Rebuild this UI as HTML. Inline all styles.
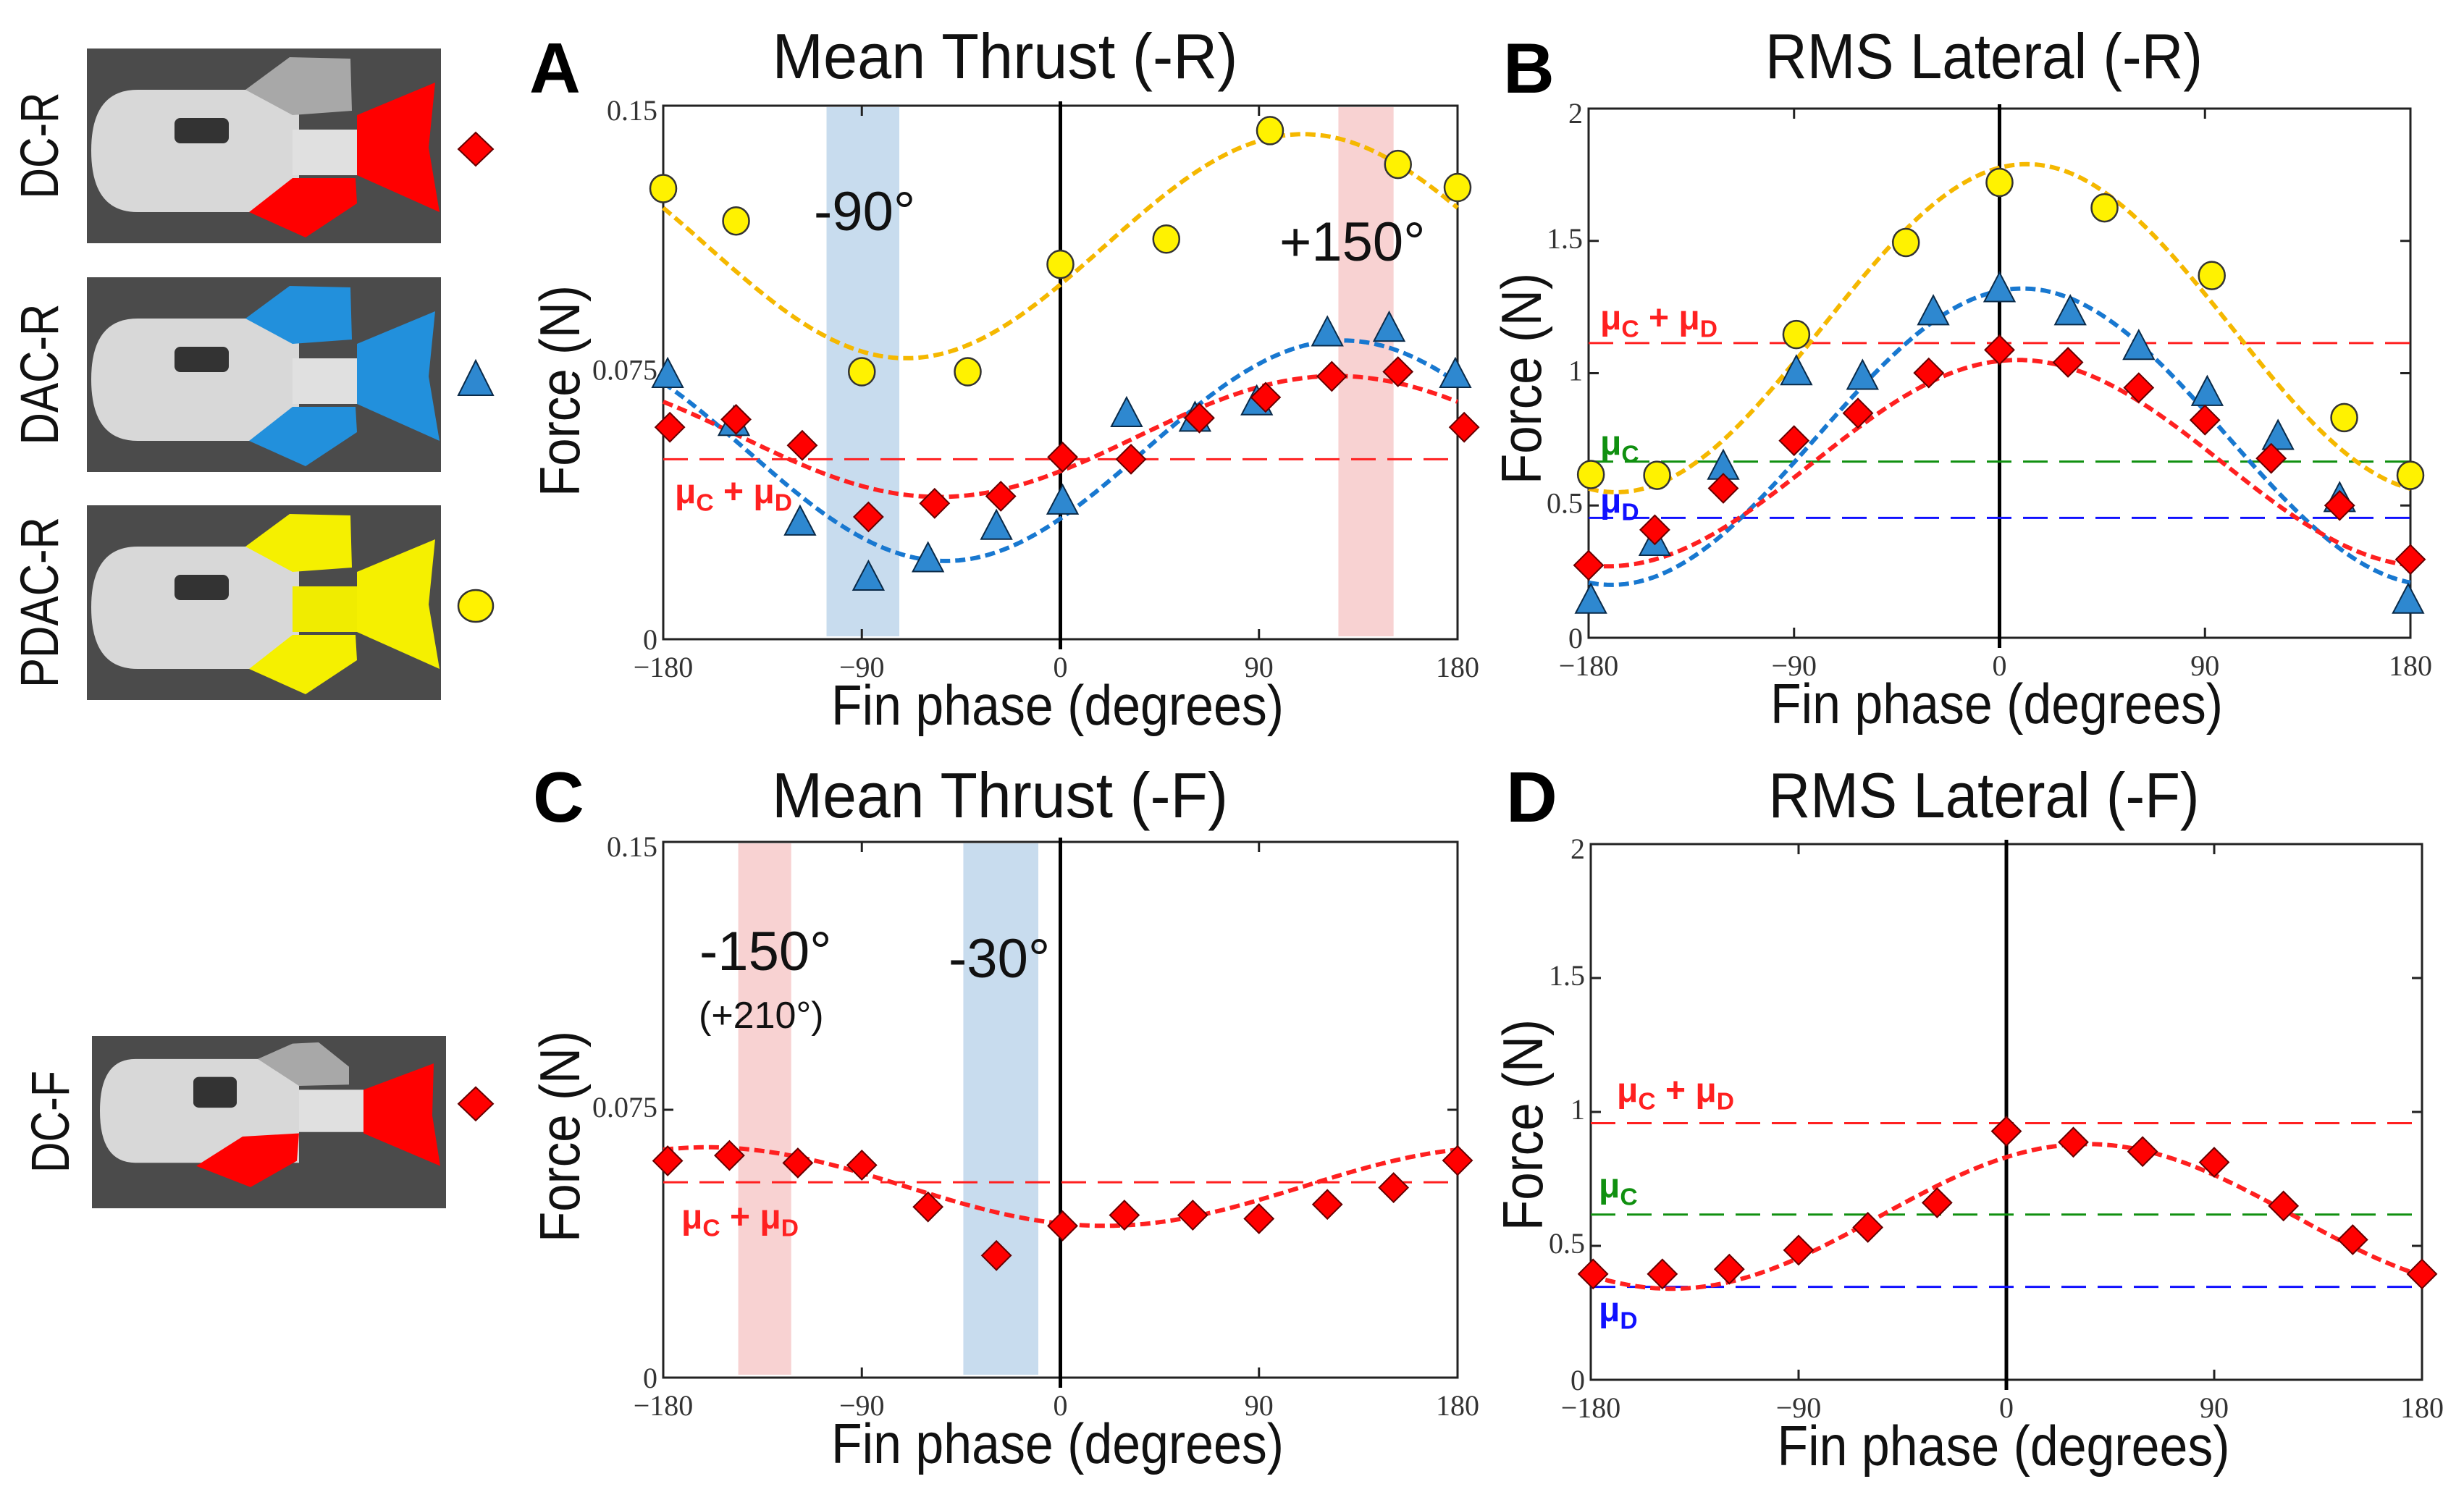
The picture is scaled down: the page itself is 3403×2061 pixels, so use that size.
<!DOCTYPE html>
<html><head><meta charset="utf-8"><style>
html,body{margin:0;padding:0;background:#fff;}
svg{display:block;}
text{font-family:"Liberation Sans",sans-serif;}
.tick{font-family:"Liberation Serif",serif;font-size:40px;fill:#333;}
</style></head>
<body>
<svg id="fig" width="3403" height="2061" viewBox="0 0 3403 2061" xmlns="http://www.w3.org/2000/svg">
<g id="fishes"></g>
<g id="plots"></g>
</svg>
<script>
// ---------- Panel A: Mean Thrust (-R) ----------
const aRedX = [-177,-147,-117,-87,-57,-27,1,32,63,93,123,153,183];
const aRedY = [0.0596,0.0618,0.0545,0.0344,0.0382,0.0402,0.0512,0.0506,0.0622,0.0680,0.0739,0.0752,0.0596];
const aBlueX = [-178,-148,-118,-87,-60,-29,1,30,61,89,121,149,179];
const aBlueY = [0.0745,0.0610,0.0330,0.0175,0.0227,0.0318,0.0389,0.0635,0.0622,0.0668,0.0862,0.0875,0.0745];
const aYelX = [-180,-147,-90,-42,0,48,95,153,180];
const aYelY = [0.1267,0.1176,0.0752,0.0752,0.1054,0.1125,0.1430,0.1335,0.1270];
const aFitRed = [0.057,0.017,125];   // mean, amplitude, peak phase
const aFitBlue = [0.053,0.031,128];
const aFitYel = [0.1105,0.0315,110];
const aHLines = [0.0506];
// ---------- Panel B: RMS Lateral (-R) ----------
const bRedX = [-180,-151,-121,-90,-62,-31,0,30,61,90,119,149,180];
const bRedY = [0.274,0.408,0.565,0.745,0.849,1.001,1.088,1.041,0.945,0.823,0.678,0.500,0.296];
const bBlueX = [-179,-151,-121,-89,-60,-29,0,31,61,91,122,149,179];
const bBlueY = [0.143,0.361,0.649,1.006,0.989,1.233,1.320,1.233,1.102,0.928,0.762,0.527,0.143];
const bYelX = [-179,-150,-89,-41,0,46,93,151,180];
const bYelY = [0.617,0.614,1.146,1.494,1.721,1.625,1.369,0.832,0.614];
const bFitRed = [0.66,0.39,8];
const bFitBlue = [0.76,0.56,10];
const bFitYel = [1.17,0.62,12];
const bHLines = [1.114,0.666,0.453];
// ---------- Panel C: Mean Thrust (-F) ----------
const cRedX = [-178,-150,-119,-90,-60,-29,1,29,60,90,121,151,180];
const cRedY = [0.0607,0.0622,0.0601,0.0595,0.0478,0.0342,0.0425,0.0455,0.0455,0.0445,0.0485,0.0532,0.0608];
const cFitRed = [0.0535,0.011,-160];
const cHLines = [0.0547];
// ---------- Panel D: RMS Lateral (-F) ----------
const dRedX = [-179,-149,-120,-90,-60,-30,0,29,59,90,120,150,180];
const dRedY = [0.395,0.395,0.413,0.484,0.569,0.661,0.928,0.887,0.852,0.812,0.649,0.523,0.395];
const dFitRed = [0.61,0.27,35];
const dHLines = [0.958,0.617,0.347];
// axis ticks
const xTicks = [-180,-90,0,90,180];
const xTickLabels = ["\u2212180","\u221290","0","90","180"];
const thrustTicks = [0,0.075,0.15];
const thrustTickLabels = ["0","0.075","0.15"];
const latTicks = [0,0.5,1,1.5,2];
const latTickLabels = ["0","0.5","1","1.5","2"];

const NS = "http://www.w3.org/2000/svg";
function mk(tag, attrs, parent){const e=document.createElementNS(NS,tag);for(const k in attrs)e.setAttribute(k,attrs[k]);parent.appendChild(e);return e;}
const plots = document.getElementById('plots');
const fishes = document.getElementById('fishes');

function muLabel(g, x, y, parts, color, size){
  const t = mk('text',{x:x,y:y,fill:color,'font-size':size,'font-weight':'bold'},g);
  parts.forEach(p=>{
    const a = mk('tspan',{},t); a.textContent='\u03bc';
    const s = mk('tspan',{dy:size*0.22,'font-size':size*0.7},t); s.textContent=p;
    const r = mk('tspan',{dy:-size*0.22},t); r.textContent = (p===parts[parts.length-1])?'':' + ';
  });
  return t;
}

function panel(cfg){
  const g = mk('g',{},plots);
  
  
  const L=cfg.l,R=cfg.r,T=cfg.t,B=cfg.b;
  const xs = v => L + (v+180)/360*(R-L);
  const ys = v => B - v/cfg.ymax*(B-T);
  (cfg.bands||[]).forEach(b=>{
    const r = mk('rect',{x:xs(b[0]),y:T+2,width:xs(b[1])-xs(b[0]),height:B-T-6,fill:b[2]},g);
    
    
  });
  const fr = mk('rect',{x:L,y:T,width:R-L,height:B-T,fill:'none',stroke:'#222','stroke-width':3},g);
  
  
  xTicks.forEach((v,i)=>{
    mk('line',{x1:xs(v),x2:xs(v),y1:B,y2:B-14,stroke:'#222','stroke-width':3},g);
    mk('line',{x1:xs(v),x2:xs(v),y1:T,y2:T+14,stroke:'#222','stroke-width':3},g);
    const t = mk('text',{x:xs(v),y:B+52,'text-anchor':'middle',class:'tick'},g);
    
    
    t.textContent = xTickLabels[i];
  });
  cfg.yt.forEach((v,i)=>{
    mk('line',{x1:L,x2:L+14,y1:ys(v),y2:ys(v),stroke:'#222','stroke-width':3},g);
    mk('line',{x1:R,x2:R-14,y1:ys(v),y2:ys(v),stroke:'#222','stroke-width':3},g);
    const t = mk('text',{x:L-8,y:ys(v)+ (v===0?14:(i===cfg.yt.length-1?20:10)),'text-anchor':'end',class:'tick'},g);
    
    
    t.textContent = cfg.ytl[i];
  });
  const z = mk('line',{x1:xs(0),x2:xs(0),y1:T-6,y2:B+14,stroke:'#000','stroke-width':5},g);
  
  
  const hcol = ['#ff2020','#109010','#1010ff'];
  cfg.h.forEach((v,i)=>{
    const l = mk('line',{x1:L,x2:R,y1:ys(v),y2:ys(v),stroke:hcol[i],'stroke-width':3,'stroke-dasharray':'34 16'},g);
    
    
  });
  cfg.fits.forEach(f=>{
    let d='';
    for(let p=-180;p<=180;p+=2){
      const v = f[0][0] + f[0][1]*Math.cos((p-f[0][2])*Math.PI/180);
      d += (p===-180?'M':'L')+xs(p).toFixed(1)+','+ys(v).toFixed(1);
    }
    const pth = mk('path',{d:d,fill:'none',stroke:f[1],'stroke-width':6,'stroke-dasharray':'14 7'},g);
    
    
  });
  cfg.series.forEach(s=>{
    s.x.forEach((xv,i)=>{
      const cx=xs(xv), cy=ys(s.y[i]);
      let m;
      if(s.type==='d') m = mk('polygon',{points:`${cx-20},${cy} ${cx},${cy-20} ${cx+20},${cy} ${cx},${cy+20}`,fill:'#ff0000',stroke:'#600','stroke-width':2},g);
      else if(s.type==='t') m = mk('polygon',{points:`${cx-21},${cy+18} ${cx},${cy-22} ${cx+21},${cy+18}`,fill:'#2e88d0',stroke:'#0a2a48','stroke-width':2},g);
      else m = mk('ellipse',{cx:cx,cy:cy,rx:18,ry:19,fill:'#fff200',stroke:'#333','stroke-width':2.5},g);
      
      
    });
  });
  const title = mk('text',{x:cfg.title[1],y:cfg.title[2],'text-anchor':'middle','font-size':88,textLength:cfg.title[3],lengthAdjust:'spacingAndGlyphs',fill:'#111'},g);
  
  
  title.textContent = cfg.title[0];
  const let_ = mk('text',{x:cfg.letter[1],y:cfg.letter[2],'font-size':98,'font-weight':'bold',fill:'#000'},g);
  
  
  let_.textContent = cfg.letter[0];
  const xl = mk('text',{x:(L+R)/2-4,y:B+118,'text-anchor':'middle','font-size':78,textLength:625,lengthAdjust:'spacingAndGlyphs',fill:'#111'},g);
  
  
  xl.textContent = 'Fin phase (degrees)';
  const yl = mk('text',{x:0,y:0,'text-anchor':'middle','font-size':78,textLength:292,lengthAdjust:'spacingAndGlyphs',fill:'#111',transform:`translate(${cfg.ylab[0]},${cfg.ylab[1]}) rotate(-90)`},g);
  
  
  yl.textContent = 'Force (N)';
  (cfg.notes||[]).forEach(n=>{
    const t = mk('text',{x:n[1],y:n[2],'font-size':n[3],fill:'#111'},g);
    
    
    t.textContent = n[0];
  });
  (cfg.mus||[]).forEach(m=>{
    const t = muLabel(g,m[0],m[1],m[2],m[3],48);
    
    
  });
}

const RED='#ff2020', BLUE='#1878d0', YEL='#f5b800';
panel({name:'panel-a-mean-thrust-r',l:916,r:2013,t:146,b:883,ymax:0.15,yt:thrustTicks,ytl:thrustTickLabels,h:aHLines,
  bands:[[-106,-73,'#c8dcee'],[126,151,'#f8d2d2']],
  fits:[[aFitYel,YEL],[aFitBlue,BLUE],[aFitRed,RED]],
  series:[{x:aYelX,y:aYelY,type:'c',name:'pdac-r-point'},{x:aBlueX,y:aBlueY,type:'t',name:'dac-r-point'},{x:aRedX,y:aRedY,type:'d',name:'dc-r-point'}],
  title:['Mean Thrust (-R)',1388,108,643],letter:['A',731,128],ylab:[800,540],
  notes:[['-90\u00b0',1124,318,76],['+150\u00b0',1767,360,76]],
  mus:[[932,695,['C','D'],RED]]});
panel({name:'panel-b-rms-lateral-r',l:2194,r:3329,t:150,b:881,ymax:2,yt:latTicks,ytl:latTickLabels,h:bHLines,
  fits:[[bFitYel,YEL],[bFitBlue,BLUE],[bFitRed,RED]],
  series:[{x:bYelX,y:bYelY,type:'c',name:'pdac-r-point'},{x:bBlueX,y:bBlueY,type:'t',name:'dac-r-point'},{x:bRedX,y:bRedY,type:'d',name:'dc-r-point'}],
  title:['RMS Lateral (-R)',2740,108,604],letter:['B',2076,128],ylab:[2128,523],
  mus:[[2210,455,['C','D'],RED],[2210,628,['C'],'#109010'],[2210,708,['D'],'#1010ff']]});
panel({name:'panel-c-mean-thrust-f',l:916,r:2013,t:1163,b:1903,ymax:0.15,yt:thrustTicks,ytl:thrustTickLabels,h:cHLines,
  bands:[[-146,-122,'#f8d2d2'],[-44,-10,'#c8dcee']],
  fits:[[cFitRed,RED]],
  series:[{x:cRedX,y:cRedY,type:'d',name:'dc-f-point'}],
  title:['Mean Thrust (-F)',1381,1129,630],letter:['C',736,1135],ylab:[800,1570],
  notes:[['-150\u00b0',966,1340,76],['(+210\u00b0)',965,1420,52],['-30\u00b0',1310,1350,76]],
  mus:[[941,1697,['C','D'],RED]]});
panel({name:'panel-d-rms-lateral-f',l:2197,r:3345,t:1166,b:1906,ymax:2,yt:latTicks,ytl:latTickLabels,h:dHLines,
  fits:[[dFitRed,RED]],
  series:[{x:dRedX,y:dRedY,type:'d',name:'dc-f-point'}],
  title:['RMS Lateral (-F)',2740,1129,595],letter:['D',2080,1135],ylab:[2130,1554],
  mus:[[2233,1522,['C','D'],RED],[2208,1654,['C'],'#109010'],[2208,1825,['D'],'#1010ff']]});

// ---------- fish images ----------
function fish(ox, oy, sy, topCol, botCol, pedCol, name, label, lblLen, mtype, compact){
  const g = mk('g',{transform:`translate(${ox},${oy}) scale(1,${sy})`},fishes);
  
  
  mk('rect',{x:0,y:0,width:489,height:269,fill:'#4b4b4b'},g);
  if(compact){
    mk('path',{d:'M60,36 L286,36 L286,198 L60,198 Q11,198 11,117 Q11,36 60,36 Z',fill:'#d8d8d8'},g);
    mk('rect',{x:140,y:64,width:60,height:48,rx:8,fill:'#333'},g);
    mk('rect',{x:286,y:84,width:89,height:66,fill:'#e0e0e0'},g);
    mk('polygon',{points:'375,84 472,43 470,124 481,203 375,152',fill:'#ff0000'},g);
    mk('polygon',{points:'229,36 277,12 313,10 355,48 355,76 286,78',fill:topCol},g);
    mk('polygon',{points:'144,203 208,157 286,152 283,195 219,236',fill:botCol},g);
  } else {
    mk('path',{d:'M70,57 L293,57 L293,226 L70,226 Q6,226 6,141 Q6,57 70,57 Z',fill:'#d8d8d8'},g);
    mk('rect',{x:121,y:96,width:75,height:35,rx:8,fill:'#333'},g);
    mk('rect',{x:284,y:112,width:89,height:63,fill:pedCol},g);
    mk('polygon',{points:'373,92 481,47 472,137 487,226 373,175',fill:botCol},g);
    mk('polygon',{points:'219,57 280,12 364,14 366,86 284,92',fill:topCol},g);
    mk('polygon',{points:'224,226 284,179 371,179 373,214 302,261',fill:botCol},g);
  }
  const t = mk('text',{x:0,y:0,'text-anchor':'middle','font-size':74,textLength:lblLen,lengthAdjust:'spacingAndGlyphs',fill:'#111'},fishes);
  
  
  t.setAttribute('transform', `translate(${compact?95:80},${oy+134*sy}) rotate(-90)`);
  t.textContent = label;
  const mx=657, my=oy+(compact?106:139)*sy;
  let m;
  if(mtype==='d') m = mk('polygon',{points:`${mx-24},${my} ${mx},${my-23} ${mx+24},${my} ${mx},${my+23}`,fill:'#ff0000',stroke:'#600','stroke-width':2},fishes);
  else if(mtype==='t') m = mk('polygon',{points:`${mx-24},${my+24} ${mx},${my-24} ${mx+24},${my+24}`,fill:'#2e88d0',stroke:'#0a2a48','stroke-width':2},fishes);
  else m = mk('ellipse',{cx:mx,cy:my,rx:24,ry:22,fill:'#fff200',stroke:'#333','stroke-width':2.5},fishes);
  
  
}
fish(120,67,1,'#a8a8a8','#ff0000','#e0e0e0','dc-r-image','DC-R',147,'d',false);
fish(120,383,1,'#2290dc','#2290dc','#e0e0e0','dac-r-image','DAC-R',195,'t',false);
fish(120,698,1,'#f5f000','#f5f000','#f0ec00','pdac-r-image','PDAC-R',236,'c',false);
fish(127,1431,0.885,'#a8a8a8','#ff0000','#e0e0e0','dc-f-image','DC-F',141,'d',true);
</script>
</body></html>
